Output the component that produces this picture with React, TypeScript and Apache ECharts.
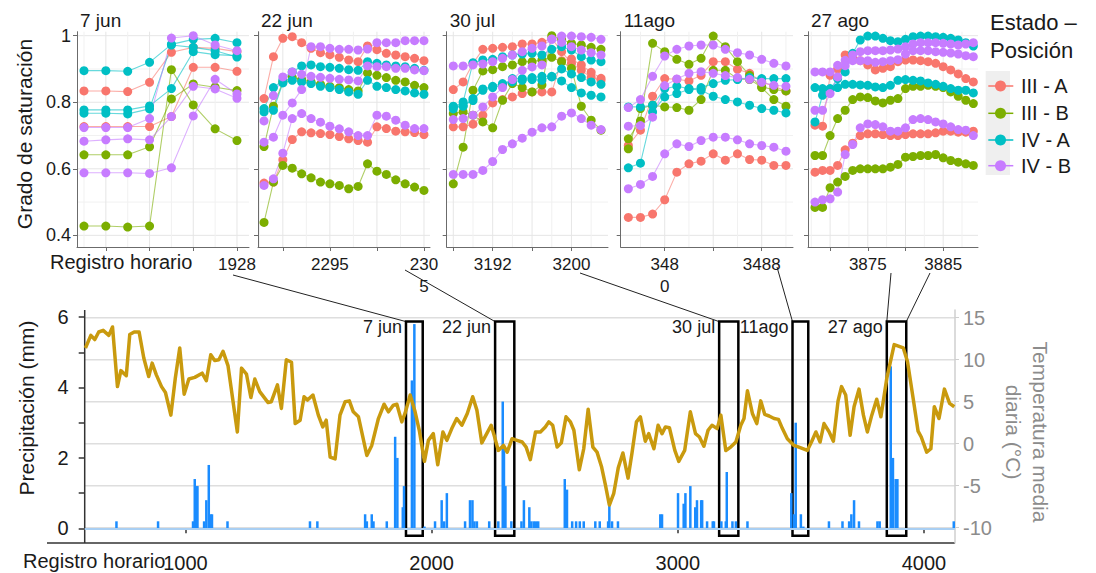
import React, { useEffect, useRef } from 'react';
import * as echarts from 'echarts';

const FONT = '"Liberation Sans", Arial, Helvetica, sans-serif';

// ---------- legend / groups ----------
const groupNames = ['III - A', 'III - B', 'IV - A', 'IV - B'];
const groupColors = ['#F8766D', '#7CAE00', '#00BFC4', '#C77CFF'];

// ---------- panel 1 : 7 jun ----------
const jun7Hours = [1921, 1922, 1923, 1924, 1925, 1926, 1927, 1928];
const jun7IIIA = [
  [0.834, 0.834, 0.832, 0.86, 0.95, 0.965, 0.962, 0.952],
  [0.727, 0.727, 0.727, 0.727, 0.757, 0.905, 0.905, 0.893],
];
const jun7IIIB = [
  [0.642, 0.642, 0.642, 0.666, 0.81, 0.855, 0.845, 0.835],
  [0.428, 0.428, 0.425, 0.428, 0.898, 0.792, 0.72, 0.685],
];
const jun7IVA = [
  [0.895, 0.895, 0.893, 0.92, 0.974, 0.989, 0.992, 0.979],
  [0.777, 0.777, 0.777, 0.789, 0.841, 0.952, 0.943, 0.94],
  [0.767, 0.767, 0.765, 0.78, 0.972, 0.965, 0.955, 0.936],
];
const jun7IVB = [
  [0.724, 0.724, 0.724, 0.751, 0.993, 1.0, 0.972, 0.955],
  [0.683, 0.687, 0.69, 0.687, 0.757, 0.848, 0.84, 0.812],
  [0.588, 0.588, 0.588, 0.586, 0.603, 0.759, 0.869, 0.825],
];
const jun7Ticks = [1922, 1924, 1926, 1928];
const jun7Minor = [1921, 1923, 1925, 1927];
const jun7Labels = [1928];
const jun7LabelText = ['1928'];

// ---------- panel 2 : 22 jun ----------
const jun22Hours = [2288, 2289, 2290, 2291, 2292, 2293, 2294, 2295, 2296, 2297, 2298, 2299, 2300, 2301, 2302, 2303, 2304, 2305];
const jun22IIIA = [
  [0.811, 0.937, 0.992, 0.997, 0.979, 0.962, 0.949, 0.943, 0.935, 0.927, 0.922, 0.969, 0.958, 0.947, 0.942, 0.937, 0.932, 0.925],
  [0.557, 0.56, 0.627, 0.688, 0.711, 0.708, 0.706, 0.703, 0.697, 0.69, 0.685, 0.68, 0.726, 0.721, 0.713, 0.711, 0.709, 0.703],
];
const jun22IIIB = [
  [0.439, 0.56, 0.61, 0.602, 0.585, 0.573, 0.56, 0.555, 0.55, 0.54, 0.547, 0.615, 0.593, 0.583, 0.567, 0.555, 0.545, 0.535],
  [0.667, 0.788, 0.861, 0.874, 0.868, 0.861, 0.854, 0.848, 0.844, 0.838, 0.834, 0.888, 0.881, 0.874, 0.866, 0.861, 0.851, 0.844],
];
const jun22IVA = [
  [0.781, 0.844, 0.866, 0.891, 0.909, 0.912, 0.907, 0.905, 0.902, 0.898, 0.896, 0.922, 0.917, 0.912, 0.909, 0.907, 0.902, 0.896],
  [0.771, 0.776, 0.858, 0.866, 0.861, 0.856, 0.848, 0.844, 0.838, 0.831, 0.824, 0.866, 0.848, 0.844, 0.838, 0.834, 0.828, 0.824],
];
const jun22IVB = [
  [0.68, 0.695, 0.761, 0.798, 0.838, 0.967, 0.967, 0.962, 0.959, 0.959, 0.957, 0.96, 0.979, 0.979, 0.979, 0.985, 0.985, 0.985],
  [0.744, 0.82, 0.876, 0.891, 0.884, 0.878, 0.875, 0.872, 0.869, 0.867, 0.864, 0.909, 0.907, 0.907, 0.902, 0.902, 0.897, 0.895],
  [0.55, 0.57, 0.647, 0.751, 0.766, 0.751, 0.74, 0.728, 0.72, 0.711, 0.7, 0.7, 0.761, 0.758, 0.746, 0.731, 0.721, 0.721],
];
const jun22Ticks = [2290, 2295, 2300, 2305];
const jun22Minor = [2287.5, 2292.5, 2297.5, 2302.5];
const jun22Labels = [2295, 2305];
const jun22LabelText = ['2295', '230\n5'];

// ---------- panel 3 : 30 jul ----------
const jul30Hours = [3188, 3189, 3190, 3191, 3192, 3193, 3194, 3195, 3196, 3197, 3198, 3199, 3200, 3201, 3202, 3203];
const jul30IIIA = [
  [0.838, 0.861, 0.917, 0.959, 0.962, 0.965, 0.967, 0.975, 0.975, 0.98, 0.992, 0.952, 0.917, 0.896, 0.874, 0.866],
  [0.726, 0.726, 0.734, 0.761, 0.798, 0.808, 0.816, 0.826, 0.831, 0.831, 0.831, 0.925, 0.93, 0.912, 0.89, 0.872],
];
const jul30IIIB = [
  [0.555, 0.665, 0.836, 0.894, 0.898, 0.907, 0.912, 0.922, 0.922, 0.927, 0.935, 0.922, 0.902, 0.788, 0.746, 0.716],
  [0.766, 0.771, 0.761, 0.741, 0.723, 0.806, 0.856, 0.844, 0.831, 0.852, 1.0, 0.989, 0.977, 0.972, 0.965, 0.959],
];
const jul30IVA = [
  [0.788, 0.788, 0.811, 0.836, 0.844, 0.851, 0.871, 0.871, 0.874, 0.878, 0.878, 0.864, 0.844, 0.828, 0.821, 0.816],
  [0.786, 0.801, 0.919, 0.927, 0.929, 0.937, 0.942, 0.945, 0.947, 0.942, 0.959, 0.967, 0.957, 0.937, 0.927, 0.922],
  [0.78, 0.79, 0.805, 0.84, 0.848, 0.856, 0.861, 0.866, 0.868, 0.866, 0.876, 0.9, 0.885, 0.874, 0.861, 0.854],
];
const jul30IVB = [
  [0.909, 0.909, 0.912, 0.915, 0.922, 0.932, 0.942, 0.952, 0.962, 0.969, 0.989, 0.999, 0.999, 0.997, 0.995, 0.989],
  [0.748, 0.751, 0.761, 0.786, 0.816, 0.844, 0.868, 0.896, 0.906, 0.912, 0.99, 0.98, 0.967, 0.957, 0.949, 0.942],
  [0.583, 0.583, 0.583, 0.595, 0.622, 0.658, 0.675, 0.692, 0.71, 0.723, 0.726, 0.758, 0.768, 0.751, 0.731, 0.718],
];
const jul30Ticks = [3188, 3192, 3196, 3200];
const jul30Minor = [3190, 3194, 3198, 3202];
const jul30Labels = [3192, 3200];
const jul30LabelText = ['3192', '3200'];

// ---------- panel 4 : 11 ago ----------
const ago11Hours = [3477, 3478, 3479, 3480, 3481, 3482, 3483, 3484, 3485, 3486, 3487, 3488, 3489, 3490];
const ago11IIIA = [
  [0.454, 0.454, 0.464, 0.507, 0.59, 0.615, 0.623, 0.645, 0.626, 0.645, 0.628, 0.626, 0.61, 0.61],
  [0.67, 0.716, 0.818, 0.871, 0.869, 0.864, 0.881, 0.922, 0.922, 0.899, 0.887, 0.861, 0.848, 0.834],
];
const ago11IIIB = [
  [0.69, 0.744, 0.977, 0.952, 0.929, 0.914, 0.932, 0.999, 0.967, 0.922, 0.881, 0.844, 0.808, 0.788],
  [0.66, 0.781, 0.791, 0.786, 0.784, 0.776, 0.808, 0.896, 0.896, 0.871, 0.868, 0.846, 0.838, 0.834],
];
const ago11IVA = [
  [0.786, 0.786, 0.791, 0.841, 0.848, 0.841, 0.836, 0.818, 0.808, 0.801, 0.791, 0.781, 0.776, 0.768],
  [0.603, 0.617, 0.771, 0.816, 0.826, 0.838, 0.844, 0.856, 0.866, 0.868, 0.874, 0.871, 0.871, 0.871],
];
const ago11IVB = [
  [0.784, 0.808, 0.878, 0.939, 0.959, 0.969, 0.972, 0.972, 0.959, 0.949, 0.942, 0.929, 0.917, 0.909],
  [0.728, 0.73, 0.755, 0.85, 0.87, 0.887, 0.892, 0.887, 0.88, 0.874, 0.869, 0.86, 0.851, 0.848],
  [0.54, 0.553, 0.577, 0.645, 0.675, 0.667, 0.685, 0.695, 0.695, 0.687, 0.675, 0.67, 0.665, 0.653],
];
const ago11Ticks = [3480, 3484, 3488];
const ago11Minor = [3478, 3482, 3486, 3490];
const ago11Labels = [3480, 3488];
const ago11LabelText = ['348\n0', '3488'];

// ---------- panel 5 : 27 ago ----------
const ago27Hours = [3868, 3869, 3870, 3871, 3872, 3873, 3874, 3875, 3876, 3877, 3878, 3879, 3880, 3881, 3882, 3883, 3884, 3885, 3886, 3887, 3888, 3889];
const ago27IIIA = [
  [0.731, 0.728, 0.881, 0.9, 0.942, 0.935, 0.925, 0.912, 0.897, 0.902, 0.907, 0.922, 0.927, 0.927, 0.925, 0.922, 0.917, 0.907, 0.897, 0.885, 0.871, 0.861],
  [0.59, 0.595, 0.595, 0.61, 0.657, 0.677, 0.7, 0.705, 0.705, 0.703, 0.7, 0.7, 0.703, 0.705, 0.705, 0.705, 0.708, 0.713, 0.713, 0.71, 0.71, 0.713],
];
const ago27IIIB = [
  [0.64, 0.64, 0.7, 0.751, 0.776, 0.808, 0.816, 0.814, 0.804, 0.798, 0.806, 0.811, 0.841, 0.848, 0.848, 0.851, 0.848, 0.844, 0.831, 0.818, 0.806, 0.796],
  [0.484, 0.484, 0.543, 0.56, 0.577, 0.595, 0.6, 0.6, 0.6, 0.6, 0.605, 0.613, 0.635, 0.637, 0.64, 0.64, 0.643, 0.633, 0.625, 0.62, 0.615, 0.61],
];
const ago27IVA = [
  [0.741, 0.821, 0.838, 0.871, 0.891, 0.947, 0.987, 0.999, 0.999, 0.992, 0.985, 0.982, 0.989, 0.997, 0.999, 0.999, 0.997, 0.995, 0.992, 0.987, 0.979, 0.969],
  [0.844, 0.841, 0.841, 0.844, 0.854, 0.854, 0.852, 0.851, 0.846, 0.844, 0.851, 0.866, 0.868, 0.866, 0.864, 0.858, 0.854, 0.848, 0.841, 0.836, 0.836, 0.828],
];
const ago27IVB = [
  [0.891, 0.891, 0.891, 0.911, 0.926, 0.942, 0.952, 0.955, 0.955, 0.955, 0.957, 0.96, 0.967, 0.975, 0.979, 0.979, 0.979, 0.977, 0.975, 0.972, 0.975, 0.979],
  [0.776, 0.776, 0.826, 0.876, 0.91, 0.925, 0.925, 0.925, 0.92, 0.922, 0.925, 0.928, 0.945, 0.955, 0.955, 0.955, 0.952, 0.95, 0.948, 0.945, 0.94, 0.937],
  [0.5, 0.507, 0.51, 0.53, 0.643, 0.673, 0.723, 0.735, 0.733, 0.726, 0.713, 0.713, 0.723, 0.748, 0.751, 0.748, 0.741, 0.735, 0.726, 0.718, 0.716, 0.7],
];
const ago27Ticks = [3870, 3875, 3880, 3885];
const ago27Minor = [3867.5, 3872.5, 3877.5, 3882.5, 3887.5];
const ago27Labels = [3875, 3885];
const ago27LabelText = ['3875', '3885'];

const satTicks = [0.4, 0.6, 0.8, 1.0];
const satMinor = [0.5, 0.7, 0.9];

// ---------- bottom chart ----------
const tempHours = [
  594, 616, 632, 648, 666, 689, 704, 724, 738, 760,
  774, 792, 812, 831, 851, 865, 882, 903, 919, 941,
  959, 977, 995, 1014, 1038, 1068, 1085, 1103, 1119, 1136,
  1153, 1173, 1211, 1228, 1248, 1266, 1282, 1302, 1336, 1349,
  1374, 1390, 1410, 1431, 1446, 1466, 1482, 1496, 1518, 1540,
  1558, 1572, 1588, 1608, 1628, 1649, 1666, 1682, 1703, 1737,
  1757, 1784, 1807, 1825, 1845, 1859, 1879, 1892, 1913, 1933,
  1950, 1971, 1987, 2007, 2025, 2046, 2062, 2082, 2102, 2123,
  2145, 2167, 2184, 2204, 2224, 2242, 2254, 2271, 2292, 2307,
  2327, 2347, 2368, 2384, 2401, 2422, 2442, 2462, 2476, 2492,
  2510, 2527, 2546, 2564, 2578, 2600, 2618, 2636, 2655, 2672,
  2690, 2706, 2722, 2740, 2758, 2777, 2798, 2814, 2832, 2848,
  2868, 2882, 2903, 2920, 2936, 2950, 2966, 2988, 3004, 3028,
  3051, 3072, 3088, 3106, 3123, 3139, 3160, 3175, 3195, 3215,
  3236, 3256, 3269, 3283, 3303, 3321, 3337, 3353, 3371, 3391,
  3409, 3425, 3445, 3472, 3500, 3526, 3543, 3561, 3578, 3594,
  3615, 3632, 3651, 3665, 3682, 3700, 3716, 3736, 3754, 3770,
  3788, 3808, 3825, 3849, 3879, 3916, 3933, 3957, 3976, 3989,
  4011, 4028, 4042, 4061, 4083, 4104, 4123,
];
const tempValues = [
  11.4, 12.9, 12.4, 13.3, 13.5, 12.9, 13.9, 6.8, 8.7, 8.1,
  13.0, 13.3, 13.3, 10.2, 8.0, 9.6, 8.2, 6.8, 6.1, 3.4,
  7.8, 11.4, 5.9, 7.7, 7.9, 8.4, 7.5, 10.6, 9.9, 10.0,
  11.0, 9.3, 1.4, 9.0, 8.3, 5.5, 7.7, 6.2, 4.9, 5.0,
  7.0, 4.2, 10.0, 9.7, 2.4, 2.8, 5.6, 5.2, 5.8, 3.4,
  2.0, 2.8, -1.6, -1.8, 3.4, 5.0, 5.1, 3.8, 3.2, -1.4,
  -0.2, 3.0, 4.7, 3.8, 4.6, 4.7, 2.6, 3.6, 5.8, 3.8,
  1.6, -2.1, 0.4, 1.2, -2.5, 1.4, 0.4, 1.8, 3.0, 2.2,
  3.6, 5.6, 4.0, 0.1, 1.2, 2.2, 1.0, -0.8, -0.2, -1.0,
  0.6, 0.4, 0.2, -0.4, -1.9, 1.4, 1.4, 2.0, 2.6, 2.2,
  -0.4, 0.1, 3.2, 2.6, 1.6, -3.1, -0.6, 4.1, -0.4, -1.0,
  -2.7, -4.9, -7.3, -5.9, -2.9, -1.1, -4.1, -1.1, 2.6, 3.2,
  0.3, 1.2, -0.6, 2.2, 1.2, 2.0, 1.9, -0.8, -2.1, -0.8,
  3.8, 1.2, 0.8, -0.3, 1.6, 2.2, 1.8, 3.4, -0.8, -0.4,
  0.2, 2.2, 3.0, 6.3, 3.6, 2.4, 5.1, 3.5, 3.3, 3.0,
  2.9, 1.8, 0.6, -0.2, -0.5, -0.8, 0.2, 1.4, 0.2, 2.4,
  1.4, 0.3, 5.1, 6.8, 5.8, 1.0, 4.4, 6.5, 3.4, 1.4,
  3.4, 5.3, 3.2, 7.8, 11.8, 11.4, 9.8, 5.2, 1.5, 0.8,
  -1.0, -0.6, 4.4, 3.0, 6.5, 4.8, 4.4,
];
const precipHours = [
  720, 889, 1031, 1038, 1045, 1049, 1076, 1085, 1095, 1102,
  1108, 1171, 1506, 1536, 1730, 1737, 1757, 1764, 1818, 1852,
  1861, 1883, 1888, 1920, 1930, 1971, 2014, 2041, 2051, 2062,
  2136, 2156, 2166, 2174, 2184, 2234, 2271, 2289, 2294, 2300,
  2324, 2365, 2375, 2397, 2405, 2415, 2424, 2433, 2541, 2550,
  2571, 2587, 2602, 2618, 2665, 2683, 2717, 2722, 2733, 2757,
  2929, 2936, 3001, 3024, 3031, 3051, 3071, 3078, 3095, 3099,
  3119, 3142, 3147, 3177, 3195, 3199, 3222, 3236, 3283, 3461,
  3472, 3479, 3500, 3510, 3614, 3669, 3696, 3705, 3716, 3736,
  3811, 3820, 3865, 3874, 3885, 3892, 4121,
];
const precipValues = [
  0.2, 0.2, 0.2, 1.4, 1.2, 1.2, 0.2, 0.8, 1.8, 0.4,
  0.4, 0.2, 0.2, 0.2, 0.4, 0.2, 0.4, 0.2, 0.2, 2.6,
  2.0, 0.6, 1.2, 4.2, 5.8, 0.05, 0.2, 0.8, 0.2, 1.0,
  0.2, 0.8, 0.8, 0.2, 0.2, 0.2, 0.2, 3.6, 2.3, 1.2,
  0.2, 0.2, 0.8, 0.6, 0.2, 0.2, 0.2, 0.2, 1.4, 1.1,
  0.2, 0.2, 0.2, 0.2, 0.2, 0.2, 0.2, 0.66, 0.2, 0.2,
  0.4, 0.4, 1.0, 0.7, 1.0, 1.2, 0.6, 0.8, 0.8, 0.8,
  0.2, 0.2, 0.2, 0.2, 0.2, 1.6, 0.2, 0.2, 0.2, 1.0,
  0.4, 3.0, 0.4, 0.05, 0.2, 0.2, 0.2, 0.4, 0.8, 0.2,
  0.2, 0.2, 4.6, 2.0, 1.4, 1.4, 0.2,
];
const bottomTicks = [1000, 2000, 3000, 4000];
const precipTicks = [0, 1, 2, 3, 4, 5, 6];
const precipLabels = [0, 2, 4, 6];
const tempTicks = [-10, -5, 0, 5, 10, 15];

const boxNames = ['7 jun', '22 jun', '30 jul', '11ago', '27 ago'];
const boxStart = [1896, 2258, 3168, 3466, 3849];
const boxEnd = [1964, 2336, 3246, 3530, 3928];
const boxTop = 5.87;
const boxBottom = -0.21;

// ---------- layout ----------
const panelLeft = [77, 258, 446.7, 620.7, 808];
const panelRight = [249, 430, 608, 793, 978];
const panelXMin = [1920.68, 2287.36, 3187.33, 3476.37, 3867.07];
const panelXMax = [1928.55, 2305.64, 3203.71, 3490.58, 3889.62];
const PT = 31.7;
const PB = 247;
const satMin = 0.365;
const satMax = 1.012;

const panels = [
  { title: '7 jun', hours: jun7Hours, groups: [jun7IIIA, jun7IIIB, jun7IVA, jun7IVB], ticks: jun7Ticks, minors: jun7Minor, labels: jun7Labels, labelText: jun7LabelText },
  { title: '22 jun', hours: jun22Hours, groups: [jun22IIIA, jun22IIIB, jun22IVA, jun22IVB], ticks: jun22Ticks, minors: jun22Minor, labels: jun22Labels, labelText: jun22LabelText },
  { title: '30 jul', hours: jul30Hours, groups: [jul30IIIA, jul30IIIB, jul30IVA, jul30IVB], ticks: jul30Ticks, minors: jul30Minor, labels: jul30Labels, labelText: jul30LabelText },
  { title: '11ago', hours: ago11Hours, groups: [ago11IIIA, ago11IIIB, ago11IVA, ago11IVB], ticks: ago11Ticks, minors: ago11Minor, labels: ago11Labels, labelText: ago11LabelText },
  { title: '27 ago', hours: ago27Hours, groups: [ago27IIIA, ago27IIIB, ago27IVA, ago27IVB], ticks: ago27Ticks, minors: ago27Minor, labels: ago27Labels, labelText: ago27LabelText },
];

const AXIS = '#6b6b6b';
const TXT = '#1a1a1a';

function gridRender(xmin: number, ymin: number, major: string, minor: string, width: number) {
  return (params: any, api: any) => {
    const kind = api.value(0);
    const v = api.value(1);
    const isMinor = api.value(2);
    const cs = params.coordSys;
    const stroke = isMinor ? minor : major;
    if (kind === 0) {
      const y = api.coord([xmin, v])[1];
      return { type: 'line', shape: { x1: cs.x, y1: y, x2: cs.x + cs.width, y2: y }, style: { stroke, lineWidth: width } };
    }
    const x = api.coord([v, ymin])[0];
    return { type: 'line', shape: { x1: x, y1: cs.y, x2: x, y2: cs.y + cs.height }, style: { stroke, lineWidth: width } };
  };
}

export default function App() {
  const ref = useRef<HTMLDivElement>(null);
  useEffect(() => {
    if (!ref.current) return;
    const chart = echarts.init(ref.current, undefined, { renderer: 'svg' });
    const grids: any[] = [];
    const xAxes: any[] = [];
    const yAxes: any[] = [];
    const series: any[] = [];

    panels.forEach((p, i) => {
      grids.push({ left: panelLeft[i], top: PT, width: panelRight[i] - panelLeft[i], height: PB - PT });
      xAxes.push({
        type: 'value', gridIndex: i, min: panelXMin[i], max: panelXMax[i],
        axisLine: { show: true, onZero: false, lineStyle: { color: AXIS, width: 1 } },
        axisTick: { show: true, customValues: p.ticks, length: 4, lineStyle: { color: AXIS } },
        axisLabel: {
          show: true, customValues: p.labels, margin: 6, fontSize: 17, lineHeight: 22, color: TXT, fontFamily: FONT,
          formatter: (v: number) => { const k = p.labels.indexOf(v); return k >= 0 ? p.labelText[k] : ''; },
        },
        splitLine: { show: false },
      });
      yAxes.push({
        type: 'value', gridIndex: i, min: satMin, max: satMax,
        axisLine: { show: true, onZero: false, lineStyle: { color: AXIS, width: 1 } },
        axisTick: { show: true, customValues: satTicks, length: 4, lineStyle: { color: AXIS } },
        axisLabel: { show: i === 0, customValues: satTicks, margin: 6, fontSize: 18, color: TXT, fontFamily: FONT },
        splitLine: { show: false },
      });
      series.push({
        type: 'custom', xAxisIndex: i, yAxisIndex: i, silent: true, z: 0,
        renderItem: gridRender(panelXMin[i], satMin, '#e6e6e6', '#f1f1f1', 1),
        data: [
          ...satTicks.map((v) => [0, v, 0]),
          ...satMinor.map((v) => [0, v, 1]),
          ...p.ticks.map((v) => [1, v, 0]),
          ...p.minors.map((v) => [1, v, 1]),
        ],
      });
      p.groups.forEach((g, gi) => {
        g.forEach((vals) => {
          series.push({
            type: 'line', xAxisIndex: i, yAxisIndex: i, silent: true, z: 2,
            data: p.hours.map((h, k) => [h, vals[k]]),
            symbol: 'circle', symbolSize: 9, showAllSymbol: true,
            itemStyle: { color: groupColors[gi], borderWidth: 0 },
            lineStyle: { color: groupColors[gi], width: 1.1, opacity: 0.6 },
          });
        });
      });
    });

    // bottom chart
    const bx = 5;
    grids.push({ left: 84.7, top: 310, width: 955 - 84.7, height: 233 });
    xAxes.push({
      type: 'value', gridIndex: bx, min: 591, max: 4126,
      axisLine: { show: false },
      axisTick: { show: true, customValues: bottomTicks, length: 5, lineStyle: { color: '#333', width: 1.5 } },
      axisLabel: {
        show: true, customValues: bottomTicks, margin: 10, fontSize: 20, color: TXT, fontFamily: FONT,
        formatter: (v: number) => String(v),
      },
      splitLine: { show: false },
    });
    yAxes.push({
      type: 'value', gridIndex: bx, min: -0.416, max: 6.2, position: 'left',
      axisLine: { show: false },
      axisTick: { show: true, customValues: precipTicks, length: 6, lineStyle: { color: '#333', width: 1.5 } },
      axisLabel: { show: true, customValues: precipLabels, margin: 16, fontSize: 20, color: TXT, fontFamily: FONT },
      splitLine: { show: false },
    });
    yAxes.push({
      type: 'value', gridIndex: bx, min: -11.82, max: 15.92, position: 'right',
      axisLine: { show: true, onZero: false, lineStyle: { color: '#cfcfcf', width: 1.5 } },
      axisTick: { show: true, customValues: tempTicks, length: 4, lineStyle: { color: '#cfcfcf' } },
      axisLabel: { show: true, customValues: tempTicks, margin: 8, fontSize: 20, color: '#8c8c8c', fontFamily: FONT },
      splitLine: { show: false },
    });
    series.push({
      type: 'custom', xAxisIndex: bx, yAxisIndex: 6, silent: true, z: 0,
      renderItem: gridRender(591, -11.82, '#dedede', '#dedede', 1.4),
      data: tempTicks.map((v) => [0, v, 0]),
    });
    const barIndex = series.length;
    series.push({
      type: 'bar', xAxisIndex: bx, yAxisIndex: 5, silent: true, z: 2,
      barWidth: 2.5,
      data: precipHours.map((h, k) => [h, precipValues[k]]),
      itemStyle: { color: '#1a8cff' },
      markLine: {
        silent: true, symbol: ['none', 'none'], label: { show: false },
        lineStyle: { color: '#a9cff3', width: 2, type: 'solid' },
        data: [{ yAxis: 0 }],
      },
      markArea: {
        silent: true, label: { show: false },
        itemStyle: { color: 'rgba(0,0,0,0)', borderColor: '#000', borderWidth: 2.5 },
        data: boxStart.map((s, k) => [{ xAxis: s, yAxis: boxTop }, { xAxis: boxEnd[k], yAxis: boxBottom }]),
      },
    });
    series.push({
      type: 'line', xAxisIndex: bx, yAxisIndex: 6, silent: true, z: 3,
      data: tempHours.map((h, k) => [h, tempValues[k]]),
      showSymbol: false, symbol: 'none',
      lineStyle: { color: '#C99A0E', width: 3.5, join: 'round' },
    });

    chart.setOption({
      animation: false,
      backgroundColor: '#ffffff',
      textStyle: { fontFamily: FONT },
      grid: grids, xAxis: xAxes, yAxis: yAxes, series,
    });

    // graphic annotations
    const g: any[] = [];
    const txt = (text: string, x: number, y: number, size: number, opts: any = {}) => ({
      type: 'text', x, y, rotation: opts.rotation || 0, silent: true, z: 10,
      style: {
        text, fill: opts.fill || TXT, fontSize: size, fontFamily: FONT,
        textAlign: opts.align || 'left', textVerticalAlign: 'middle',
      },
    });
    panels.forEach((p, i) => g.push(txt(p.title, panelLeft[i] + 3, 20, 19)));
    g.push(txt('Grado de saturación', 24, 134, 21, { align: 'center', rotation: Math.PI / 2 }));
    g.push(txt('Registro horario', 50, 262, 20));
    g.push(txt('Registro horario', 23, 561, 20));
    g.push(txt('Precipitación (mm)', 26, 408, 21, { align: 'center', rotation: Math.PI / 2 }));
    g.push(txt('Temperatura media', 1040, 432, 21, { align: 'center', rotation: -Math.PI / 2, fill: '#8c8c8c' }));
    g.push(txt('diaria (°C)', 1013, 432, 21, { align: 'center', rotation: -Math.PI / 2, fill: '#8c8c8c' }));
    // legend
    g.push(txt('Estado –', 990, 22, 22));
    g.push(txt('Posición', 990, 50, 22));
    g.push({ type: 'rect', silent: true, shape: { x: 985.7, y: 71, width: 24.3, height: 104 }, style: { fill: '#efefef' } });
    const legY = [86, 113.3, 140, 165.7];
    groupNames.forEach((n, k) => {
      g.push({ type: 'line', silent: true, shape: { x1: 988.3, y1: legY[k], x2: 1013.3, y2: legY[k] }, style: { stroke: groupColors[k], lineWidth: 1.5 } });
      g.push({ type: 'circle', silent: true, shape: { cx: 1000.5, cy: legY[k], r: 5.5 }, style: { fill: groupColors[k] } });
      g.push(txt(n, 1021, legY[k], 20));
    });
    // bottom axis lines
    g.push({ type: 'line', silent: true, shape: { x1: 84.7, y1: 310, x2: 84.7, y2: 543 }, style: { stroke: '#333', lineWidth: 1.5 } });
    g.push({ type: 'line', silent: true, shape: { x1: 47, y1: 543, x2: 955, y2: 543 }, style: { stroke: '#333', lineWidth: 1.5 } });
    // box labels and connectors
    const tl = boxStart.map((s) => chart.convertToPixel({ seriesIndex: barIndex }, [s, boxTop]) as number[]);
    const tr = boxEnd.map((e) => chart.convertToPixel({ seriesIndex: barIndex }, [e, boxTop]) as number[]);
    boxNames.forEach((n, k) => g.push(txt(n, tl[k][0] - 4, 327, 18, { align: 'right' })));
    const starts = [[233, 275], [405, 270], [580, 273], [777, 267], [891, 273], [930, 273]];
    const ends = [tl[0], tl[1], tl[2], tl[3], tl[4], tr[4]];
    starts.forEach((s, k) => g.push({
      type: 'line', silent: true, shape: { x1: s[0], y1: s[1], x2: ends[k][0], y2: ends[k][1] },
      style: { stroke: '#222', lineWidth: 1 },
    }));
    chart.setOption({ graphic: g });

    return () => chart.dispose();
  }, []);
  return <div ref={ref} style={{ position: 'fixed', left: 0, top: 0, width: 1096, height: 573, background: '#fff' }} />;
}
